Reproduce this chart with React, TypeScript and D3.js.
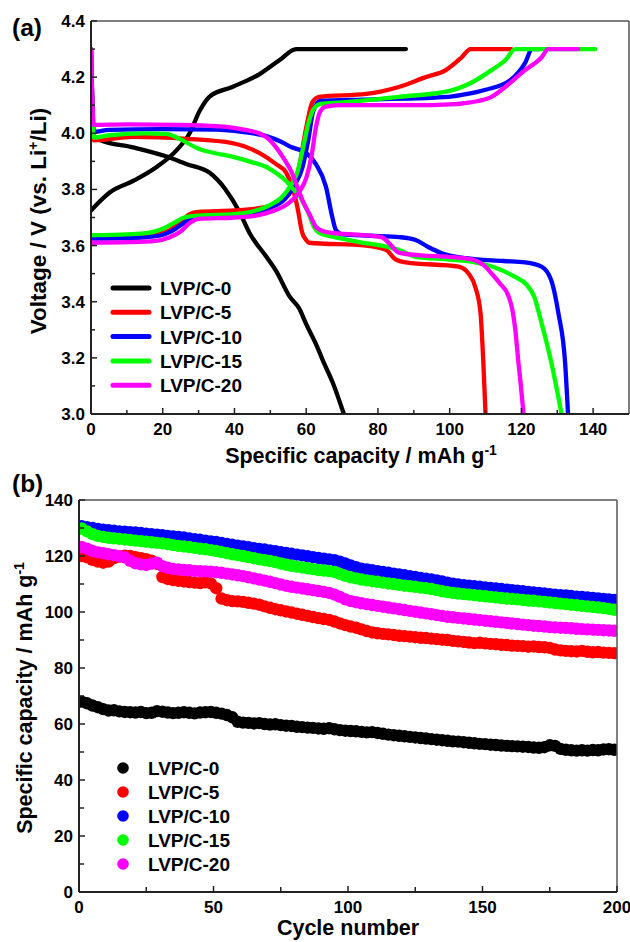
import React from 'react';
import * as d3 from 'd3';

const sampleNames = ['LVP/C-0', 'LVP/C-5', 'LVP/C-10', 'LVP/C-15', 'LVP/C-20'];
const sampleColors = ['#000000', '#ff0000', '#0000ff', '#00ff00', '#ff00ff'];

// Panel (a): charge / discharge curves [capacity mAh/g, voltage V]
const charge0 = [[0,3.725],[5.3,3.79],[11.7,3.83],[18.3,3.88],[23.9,3.94],[27.5,4.0],[30.3,4.08],[33,4.13],[39.4,4.165],[46.9,4.21],[52.5,4.26],[57.2,4.30],[87.8,4.30]];
const discharge0 = [[0,4.3],[0.8,3.99],[2.5,3.976],[11.7,3.95],[21.1,3.917],[26.7,3.89],[33,3.86],[37.5,3.80],[41.4,3.72],[44.2,3.645],[48.9,3.56],[51.6,3.51],[55.3,3.42],[58.1,3.375],[60,3.32],[62.7,3.25],[65,3.18],[67.3,3.115],[70.5,3.0]];
const charge5 = [[0,3.63],[10,3.632],[18,3.64],[22,3.655],[25,3.685],[27.5,3.712],[30,3.72],[40,3.725],[46,3.732],[50,3.742],[53.3,3.76],[56,3.80],[58,3.88],[60,4.02],[61.7,4.11],[63.6,4.13],[76.7,4.14],[85.8,4.165],[93.3,4.20],[98.9,4.225],[103.3,4.27],[105.8,4.30],[117.2,4.30]];
const discharge5 = [[0,4.3],[0.8,3.975],[11.7,3.987],[26.7,3.98],[39.4,3.965],[46.9,3.93],[51.6,3.89],[54.4,3.86],[56.1,3.81],[57.5,3.74],[58.9,3.645],[60,3.62],[60.8,3.61],[76.7,3.60],[82.2,3.585],[85,3.55],[87.8,3.54],[102.5,3.525],[105.3,3.50],[107.2,3.45],[108.6,3.36],[109.4,3.18],[110,3.0]];
const charge10 = [[0,3.625],[12,3.627],[19,3.635],[23,3.655],[26.5,3.685],[30,3.70],[40,3.708],[46,3.718],[50,3.735],[54,3.765],[57,3.82],[59,3.88],[60.5,3.97],[62,4.08],[64,4.115],[76,4.12],[99.7,4.13],[105,4.14],[110,4.155],[117,4.19],[121,4.25],[123,4.30],[125,4.30]];
const discharge10 = [[0,4.3],[0.8,4.005],[5,4.012],[20,4.015],[35,4.013],[42,4.005],[48.9,3.99],[53,3.97],[56,3.95],[60,3.93],[62.7,3.89],[65.5,3.81],[67.3,3.70],[68.3,3.655],[70,3.64],[78,3.635],[86,3.63],[90.5,3.62],[94,3.595],[97.8,3.573],[104.4,3.555],[115,3.545],[121,3.54],[125.6,3.525],[128.3,3.477],[130.3,3.36],[132.2,3.18],[133,3.0]];
const charge15 = [[0,3.637],[10,3.64],[16,3.645],[20,3.66],[23,3.68],[26,3.70],[30,3.707],[40,3.712],[46,3.725],[50,3.745],[53,3.77],[55.5,3.81],[57.5,3.86],[59,3.94],[60.5,4.03],[62,4.085],[64,4.105],[70,4.11],[86,4.13],[99.7,4.15],[106,4.18],[111.7,4.225],[115.5,4.26],[118.3,4.30],[140.6,4.30]];
const discharge15 = [[0,4.3],[0.8,3.985],[5,3.993],[15,4.0],[21,3.998],[24.7,3.98],[30,3.945],[35,3.928],[39.4,3.917],[44,3.90],[48.9,3.88],[52,3.855],[54.4,3.83],[56.5,3.80],[58,3.78],[59.5,3.745],[60.8,3.71],[62.2,3.665],[63.6,3.645],[70,3.625],[76,3.61],[81,3.60],[85.8,3.585],[90.5,3.56],[100,3.55],[107,3.54],[113,3.52],[118,3.49],[121.5,3.46],[123.5,3.42],[125.7,3.32],[128.4,3.18],[131.2,3.0]];
const charge20 = [[0,3.61],[10,3.612],[18,3.617],[22,3.63],[25,3.65],[27.5,3.68],[30,3.695],[40,3.70],[46,3.707],[50,3.72],[55,3.75],[58,3.79],[60,3.84],[61.5,3.92],[62.7,4.02],[63.8,4.075],[65.5,4.095],[70,4.10],[90,4.10],[100,4.103],[104,4.107],[108,4.115],[111.7,4.13],[115.5,4.165],[121,4.225],[125.6,4.27],[127.5,4.30],[135.8,4.30]];
const discharge20 = [[0,4.3],[0.8,4.03],[10,4.032],[25,4.03],[35,4.025],[39.4,4.02],[43,4.012],[46.9,4.0],[49.5,3.98],[51.6,3.95],[54,3.905],[56,3.86],[57.8,3.80],[59,3.76],[61,3.71],[62.8,3.665],[65,3.65],[67.2,3.645],[75,3.638],[81,3.63],[83,3.61],[85.8,3.575],[92,3.565],[99.7,3.56],[104,3.555],[107,3.548],[109.5,3.53],[111.7,3.50],[114,3.465],[116.4,3.42],[117.5,3.37],[118.3,3.30],[119.2,3.18],[119.7,3.12],[120.6,3.0]];

const curvesA = [
  [charge0, discharge0],
  [charge5, discharge5],
  [charge10, discharge10],
  [charge15, discharge15],
  [charge20, discharge20],
];

// Panel (b): capacity at cycles 1,3,5,...,199
const cap0 = [
  68.0, 67.4, 66.6, 66.0, 65.3, 64.8, 64.9, 64.5, 64.3, 64.2,
  64.1, 64.3, 63.9, 64.0, 64.6, 64.4, 64.1, 63.9, 64.0, 64.2,
  64.0, 63.8, 64.1, 64.2, 64.3, 64.0, 63.7, 63.2, 62.4, 60.8,
  60.5, 60.4, 60.2, 60.3, 60.0, 59.8, 59.9, 59.6, 59.4, 59.3,
  59.0, 58.9, 58.7, 58.6, 58.4, 58.3, 58.5, 58.1, 57.8, 57.6,
  57.5, 57.4, 57.2, 57.0, 57.1, 56.8, 56.5, 56.2, 56.0, 55.8,
  55.6, 55.4, 55.2, 55.0, 54.8, 54.6, 54.4, 54.2, 54.0, 53.8,
  53.7, 53.5, 53.3, 53.1, 52.9, 52.8, 52.6, 52.5, 52.3, 52.2,
  52.1, 52.0, 51.9, 51.8, 51.6, 51.5, 51.7, 52.4, 52.2, 51.1,
  50.8, 50.6, 50.5, 50.6, 50.5, 50.7, 50.6, 50.9, 51.0, 50.8,
];
const cap5 = [
  120.0, 119.5, 118.6, 118.0, 117.6, 118.0, 119.2, 119.8, 120.1, 120.0,
  119.6, 119.2, 118.9, 118.3, 117.2, 112.5, 111.8, 111.4, 111.1, 110.9,
  110.7, 110.5, 110.3, 110.6, 110.2, 108.5, 104.8, 104.2, 103.9, 103.8,
  103.6, 103.3, 103.0, 102.6, 102.0, 101.5, 101.0, 100.6, 100.2, 99.8,
  99.4, 99.0, 98.6, 98.2, 97.8, 97.5, 97.2, 96.6, 95.9, 95.3,
  94.8, 94.4, 93.8, 93.2, 92.7, 92.4, 92.2, 92.0, 91.8, 91.5,
  91.4, 91.2, 91.0, 90.8, 90.7, 90.5, 90.3, 90.1, 90.0, 89.7,
  89.5, 89.3, 89.1, 88.9, 89.0, 88.8, 88.6, 88.5, 88.3, 88.2,
  88.0, 87.9, 87.8, 87.6, 87.7, 87.5, 87.4, 87.2, 86.6, 86.3,
  86.1, 86.0, 85.9, 86.1, 85.8, 85.6, 85.7, 85.5, 85.4, 85.3,
];
const cap10 = [
  130.6, 130.3, 130.0, 129.7, 129.4, 129.2, 129.0, 128.8, 128.7, 128.5,
  128.4, 128.2, 128.0, 127.8, 127.6, 127.4, 127.2, 127.0, 126.8, 126.6,
  126.3, 126.0, 125.8, 125.5, 125.2, 125.0, 124.7, 124.3, 124.0, 123.7,
  123.4, 123.1, 122.8, 122.5, 122.3, 122.0, 121.7, 121.4, 121.1, 120.8,
  120.5, 120.2, 119.9, 119.6, 119.3, 119.0, 118.8, 118.5, 118.0, 117.3,
  116.6, 116.0, 115.5, 115.2, 114.9, 114.6, 114.3, 114.0, 113.7, 113.4,
  113.1, 112.8, 112.5, 112.2, 111.9, 111.6, 111.3, 110.9, 110.5, 110.1,
  109.8, 109.6, 109.4, 109.2, 109.0, 108.8, 108.6, 108.4, 108.2, 108.0,
  107.8, 107.6, 107.4, 107.2, 107.0, 106.8, 106.6, 106.4, 106.2, 106.0,
  105.9, 105.7, 105.5, 105.4, 105.2, 105.0, 104.8, 104.7, 104.5, 104.3,
];
const cap15 = [
  129.8, 128.8, 127.8, 127.2, 126.8, 126.5, 126.3, 126.1, 125.9, 125.7,
  125.5, 125.3, 125.1, 124.9, 124.7, 124.5, 124.2, 123.9, 123.6, 123.4,
  123.2, 122.9, 122.6, 122.4, 122.1, 121.8, 121.4, 121.0, 120.6, 120.3,
  120.0, 119.6, 119.2, 118.8, 118.5, 118.2, 117.8, 117.3, 116.9, 116.5,
  116.2, 115.9, 115.6, 115.3, 115.0, 114.8, 114.6, 114.3, 113.6, 112.9,
  112.4, 112.0, 111.6, 111.3, 111.0, 110.8, 110.5, 110.2, 110.0, 109.7,
  109.4, 109.2, 109.0, 108.7, 108.5, 108.2, 107.8, 107.4, 107.1, 106.8,
  106.6, 106.4, 106.2, 106.0, 105.8, 105.6, 105.4, 105.2, 105.0, 104.8,
  104.7, 104.5, 104.3, 104.1, 104.0, 103.8, 103.6, 103.4, 103.2, 103.0,
  102.8, 102.6, 102.4, 102.2, 102.0, 101.8, 101.6, 101.4, 101.1, 100.8,
];
const cap20 = [
  123.2, 122.6, 121.8, 121.3, 121.0, 120.6, 120.3, 119.9, 119.5, 118.3,
  117.4, 117.0, 116.8, 117.3, 117.6, 116.4, 115.8, 115.4, 115.2, 115.0,
  114.9, 114.7, 114.6, 114.5, 114.4, 114.2, 114.0, 113.7, 113.4, 113.1,
  112.8, 112.4, 112.0, 111.6, 111.2, 110.8, 110.3, 109.8, 109.4, 109.0,
  108.7, 108.4, 108.1, 107.8, 107.5, 107.2, 106.8, 106.2, 105.4, 104.5,
  103.9, 103.5, 103.1, 102.8, 102.5, 102.2, 101.9, 101.6, 101.3, 101.0,
  100.7, 100.4, 100.1, 99.8, 99.5, 99.2, 98.9, 98.6, 98.3, 98.1,
  97.9, 97.7, 97.5, 97.3, 97.1, 96.9, 96.7, 96.5, 96.3, 96.1,
  95.9, 95.7, 95.5, 95.3, 95.1, 95.0, 94.8, 94.6, 94.5, 94.4,
  94.3, 94.2, 94.0, 93.9, 93.8, 93.7, 93.6, 93.5, 93.4, 93.3,
];
const capsB = [cap0, cap5, cap10, cap15, cap20];

const aXTicks = [0, 20, 40, 60, 80, 100, 120, 140];
const aXMinor = [10, 30, 50, 70, 90, 110, 130];
const aYTicks = [3.0, 3.2, 3.4, 3.6, 3.8, 4.0, 4.2, 4.4];
const aYMinor = [3.1, 3.3, 3.5, 3.7, 3.9, 4.1, 4.3];
const bXTicks = [0, 50, 100, 150, 200];
const bXMinor = [25, 75, 125, 175];
const bYTicks = [0, 20, 40, 60, 80, 100, 120, 140];
const bYMinor = [10, 30, 50, 70, 90, 110, 130];

const FONT = "Arial, 'Liberation Sans', sans-serif";

export default function App() {
  // panel a
  const ax = d3.scaleLinear().domain([0, 150]).range([91, 629]);
  const ay = d3.scaleLinear().domain([3.0, 4.4]).range([414, 21]);
  // panel b
  const bx = d3.scaleLinear().domain([0, 200]).range([79, 617]);
  const by = d3.scaleLinear().domain([0, 140]).range([892, 500]);

  const line = d3
    .line<number[]>()
    .x((d) => ax(d[0]))
    .y((d) => ay(d[1]))
    .curve(d3.curveMonotoneX);

  const tickText = { fontFamily: FONT, fontWeight: 700, fontSize: 17, fill: '#000' } as const;
  const titleText = { fontFamily: FONT, fontWeight: 700, fontSize: 21.5, fill: '#000' } as const;
  const legText = { fontFamily: FONT, fontWeight: 700, fontSize: 19, fill: '#000' } as const;

  const frame = (x0: number, x1: number, y0: number, y1: number) => (
    <g>
      <line x1={x0} y1={y0} x2={x1} y2={y0} stroke="#555" strokeWidth={1.5} />
      <line x1={x1} y1={y0} x2={x1} y2={y1} stroke="#555" strokeWidth={1.5} />
      <line x1={x0} y1={y1} x2={x1} y2={y1} stroke="#222" strokeWidth={2} />
      <line x1={x0} y1={y0} x2={x0} y2={y1} stroke="#222" strokeWidth={2} />
    </g>
  );

  const cycles = cap0.map((_, i) => 1 + 2 * i);

  return (
    <svg width={630} height={942} style={{ position: 'absolute', left: 0, top: 0, background: '#fff' }}>
      <rect x={0} y={0} width={630} height={942} fill="#fff" />
      {/* ---------- Panel (a) ---------- */}
      <text x={12} y={36} style={{ ...titleText, fontSize: 24.5 }}>(a)</text>
      <defs>
        <clipPath id="clipA">
          <rect x={91} y={21} width={538} height={393} />
        </clipPath>
      </defs>
      <g clipPath="url(#clipA)">
        {curvesA.map((pair, i) =>
          pair.map((pts, j) => (
            <path
              key={`${i}-${j}`}
              d={line(pts) || ''}
              fill="none"
              stroke={sampleColors[i]}
              strokeWidth={4.3}
              strokeLinejoin="round"
              strokeLinecap="round"
            />
          ))
        )}
      </g>
      {frame(91, 629, 21, 414)}
      {aXTicks.map((t) => (
        <g key={`axt${t}`}>
          <line x1={ax(t)} x2={ax(t)} y1={414} y2={408} stroke="#222" strokeWidth={1.5} />
          <text x={ax(t)} y={435} textAnchor="middle" style={tickText}>{t}</text>
        </g>
      ))}
      {aXMinor.map((t) => (
        <line key={`axm${t}`} x1={ax(t)} x2={ax(t)} y1={414} y2={410} stroke="#222" strokeWidth={1.5} />
      ))}
      {aYTicks.map((t) => (
        <g key={`ayt${t}`}>
          <line x1={91} x2={97} y1={ay(t)} y2={ay(t)} stroke="#222" strokeWidth={1.5} />
          <text x={85} y={ay(t) + 6} textAnchor="end" style={tickText}>{t.toFixed(1)}</text>
        </g>
      ))}
      {aYMinor.map((t) => (
        <line key={`aym${t}`} x1={91} x2={95} y1={ay(t)} y2={ay(t)} stroke="#222" strokeWidth={1.5} />
      ))}
      <text x={361} y={463} textAnchor="middle" style={titleText}>
        Specific capacity / mAh g<tspan dy={-8} fontSize={14}>-1</tspan>
      </text>
      <text transform="translate(46,221) rotate(-90)" textAnchor="middle" style={{ ...titleText, fontSize: 22.5 }}>
        Voltage / V (vs. Li<tspan dy={-8} fontSize={14}>+</tspan><tspan dy={8}>/Li)</tspan>
      </text>
      {sampleNames.map((n, i) => (
        <g key={`la${i}`}>
          <line x1={113} x2={149} y1={288 + i * 24.3} y2={288 + i * 24.3} stroke={sampleColors[i]} strokeWidth={5} strokeLinecap="round" />
          <text x={160} y={288 + i * 24.3 + 7} style={legText}>{n}</text>
        </g>
      ))}

      {/* ---------- Panel (b) ---------- */}
      <text x={12} y={492} style={{ ...titleText, fontSize: 24.5 }}>(b)</text>
      <defs>
        <clipPath id="clipB">
          <rect x={79} y={500} width={538} height={392} />
        </clipPath>
      </defs>
      <g clipPath="url(#clipB)">
        {capsB.map((arr, i) => (
          <g key={`s${i}`} fill={sampleColors[i]}>
            {arr.map((v, k) => (
              <circle key={k} cx={bx(cycles[k])} cy={by(v)} r={6.2} />
            ))}
          </g>
        ))}
      </g>
      {frame(79, 617, 500, 892)}
      {bXTicks.map((t) => (
        <g key={`bxt${t}`}>
          <line x1={bx(t)} x2={bx(t)} y1={892} y2={886} stroke="#222" strokeWidth={1.5} />
          <text x={bx(t)} y={913} textAnchor="middle" style={tickText}>{t}</text>
        </g>
      ))}
      {bXMinor.map((t) => (
        <line key={`bxm${t}`} x1={bx(t)} x2={bx(t)} y1={892} y2={887} stroke="#222" strokeWidth={1.5} />
      ))}
      {bYTicks.map((t) => (
        <g key={`byt${t}`}>
          <line x1={79} x2={85} y1={by(t)} y2={by(t)} stroke="#222" strokeWidth={1.5} />
          <text x={73} y={by(t) + 6} textAnchor="end" style={tickText}>{t}</text>
        </g>
      ))}
      {bYMinor.map((t) => (
        <line key={`bym${t}`} x1={79} x2={84} y1={by(t)} y2={by(t)} stroke="#222" strokeWidth={1.5} />
      ))}
      <text x={348} y={935} textAnchor="middle" style={titleText}>Cycle number</text>
      <text transform="translate(32,698) rotate(-90)" textAnchor="middle" style={titleText}>
        Specific capacity / mAh g<tspan dy={-8} fontSize={14}>-1</tspan>
      </text>
      {sampleNames.map((n, i) => (
        <g key={`lb${i}`}>
          <circle cx={123} cy={768 + i * 24} r={5.8} fill={sampleColors[i]} />
          <text x={148} y={768 + i * 24 + 7} style={legText}>{n}</text>
        </g>
      ))}
    </svg>
  );
}
